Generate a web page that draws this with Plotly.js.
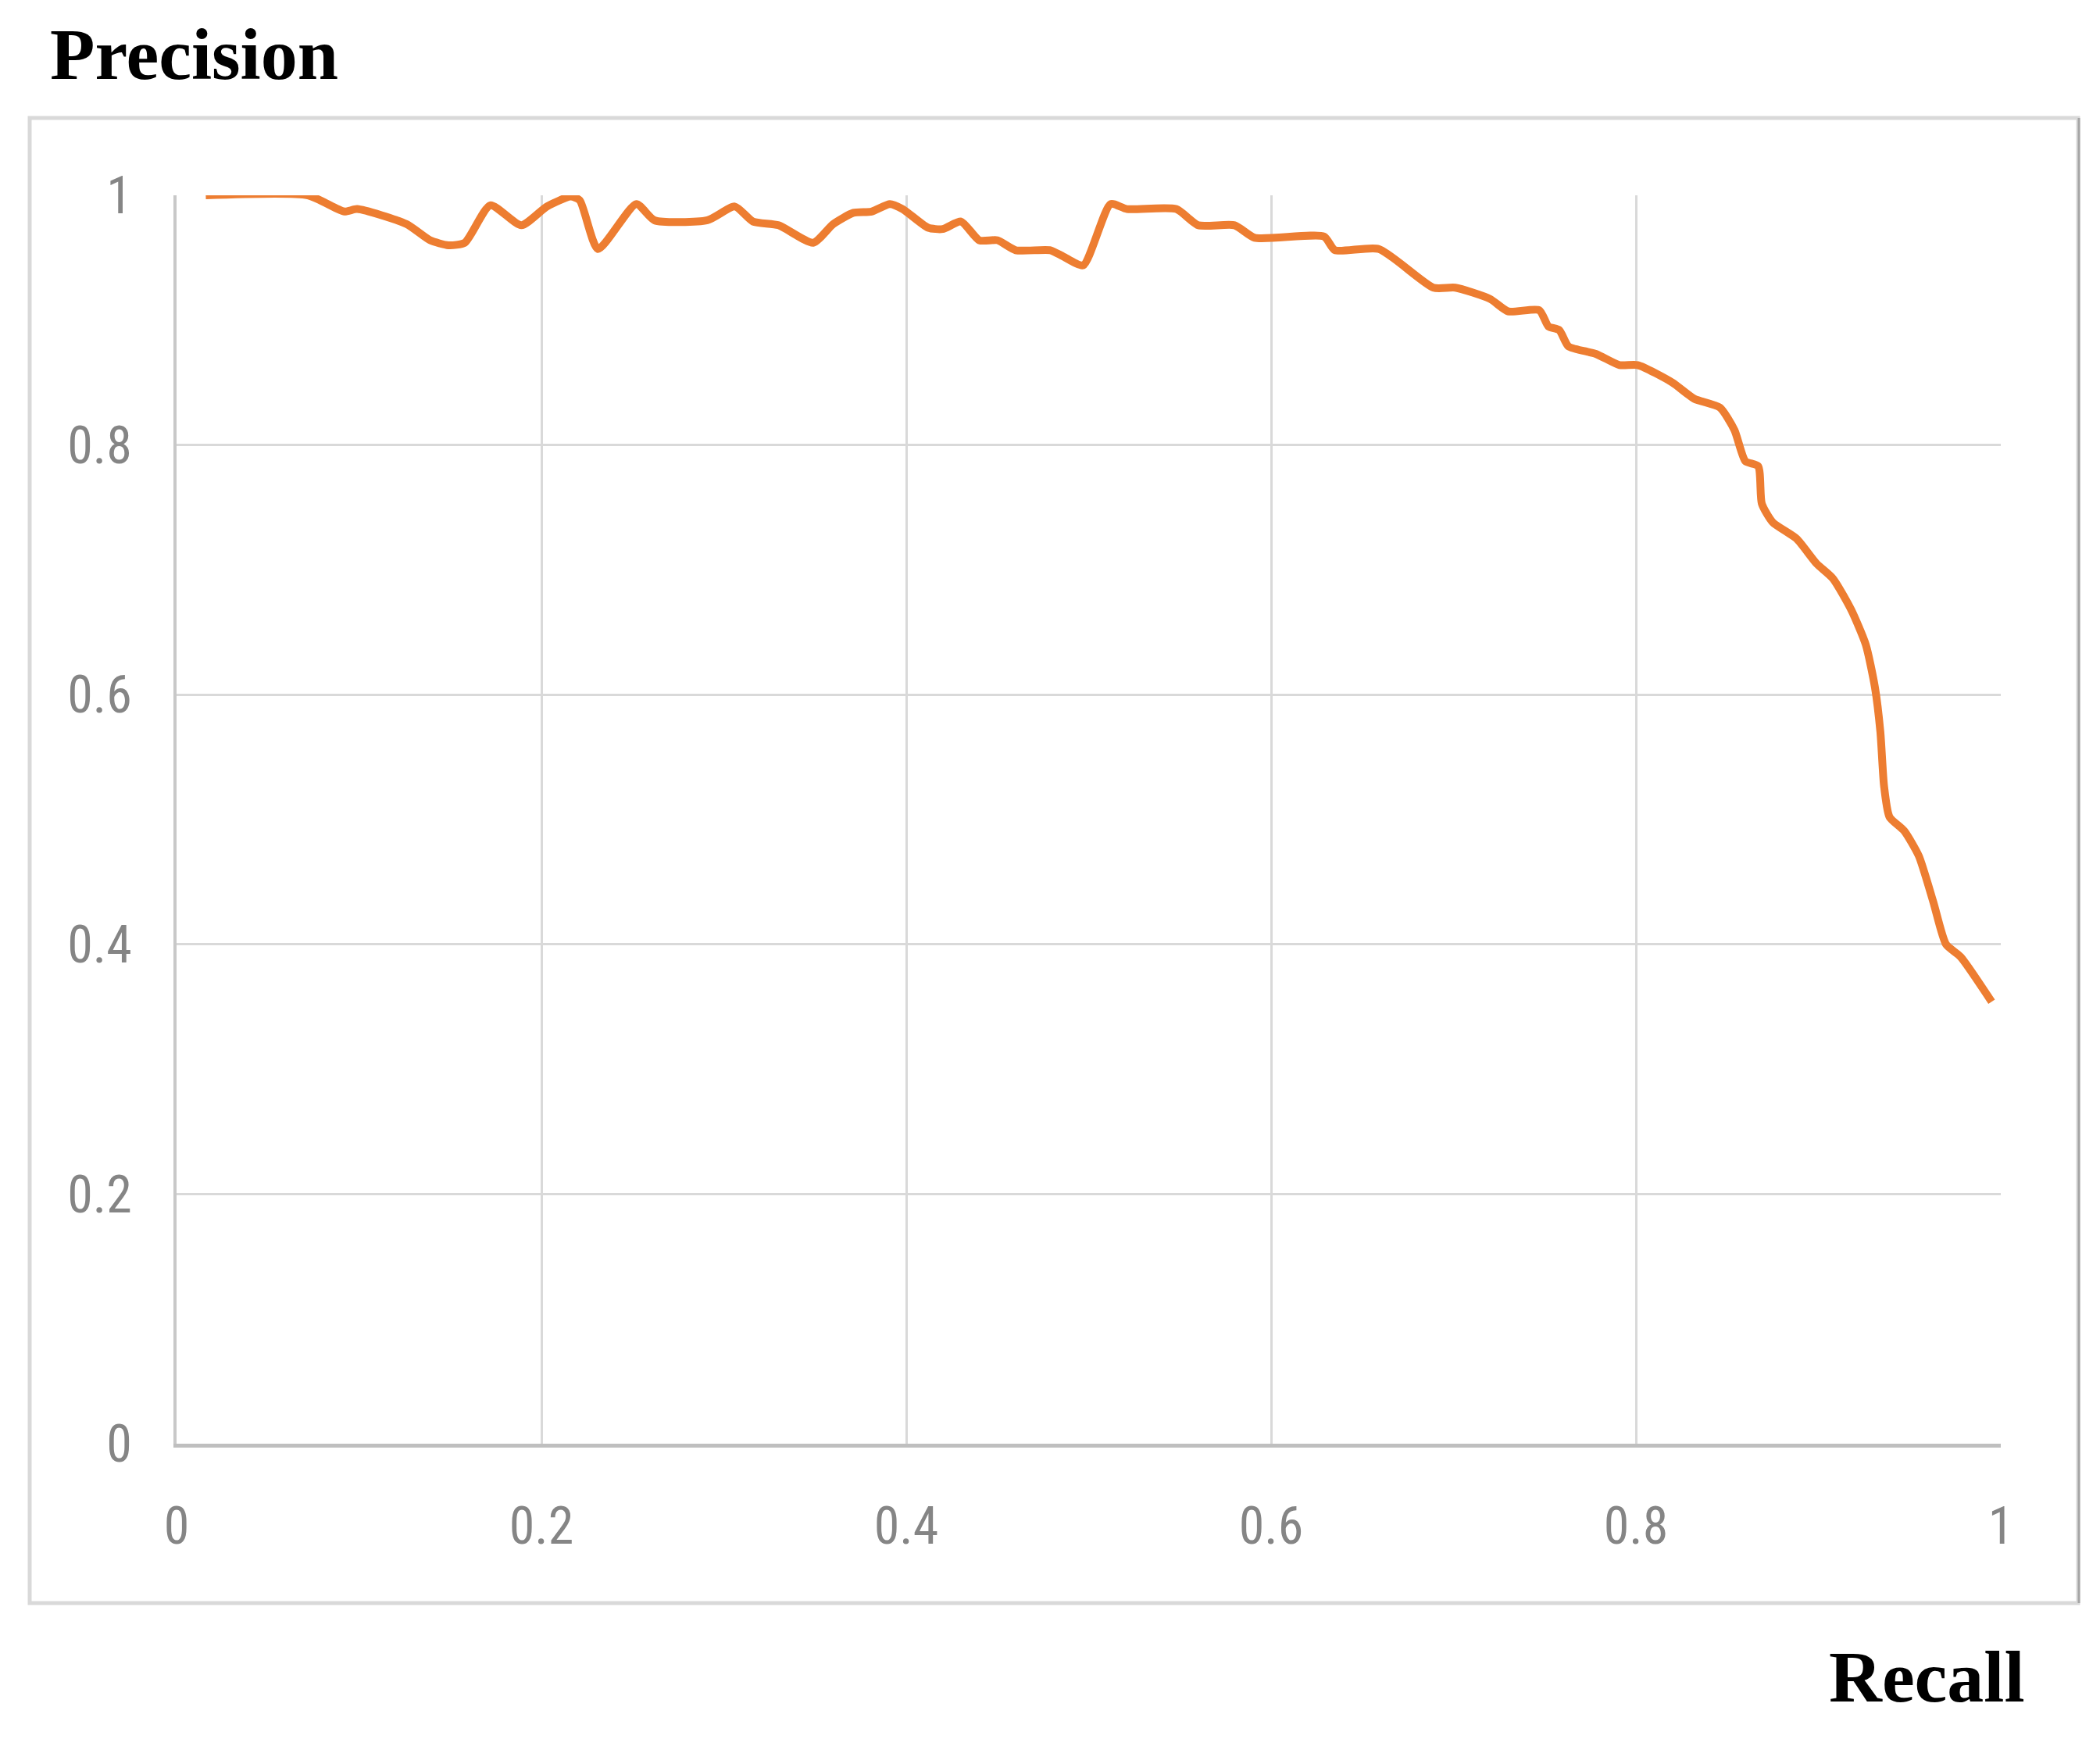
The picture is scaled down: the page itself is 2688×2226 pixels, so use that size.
<!DOCTYPE html>
<html>
<head>
<meta charset="utf-8">
<script src="https://cdn.plot.ly/plotly-3.0.1.min.js"></script>
<style>html,body{margin:0;padding:0;background:#fff;}#chart{width:2688px;height:2226px;}</style>
</head>
<body>
<div id="chart"></div>
<script>
// Recall values (x axis)
const recall = [0.016,0.072,0.092,0.099,0.126,0.139,0.149,0.158,0.172,0.189,0.203,0.216,0.221,0.231,0.252,0.262,0.291,0.306,0.316,0.330,0.349,0.360,0.371,0.381,0.391,0.398,0.412,0.420,0.430,0.440,0.450,0.460,0.479,0.486,0.497,0.512,0.521,0.548,0.560,0.580,0.591,0.629,0.635,0.659,0.689,0.701,0.720,0.730,0.747,0.752,0.758,0.763,0.778,0.791,0.801,0.820,0.832,0.846,0.854,0.860,0.867,0.869,0.875,0.888,0.899,0.908,0.918,0.926,0.931,0.934,0.936,0.939,0.947,0.955,0.963,0.970,0.978,0.995];
// Precision values (y axis)
const precision = [1.000,1.000,0.987,0.989,0.977,0.964,0.960,0.962,0.992,0.976,0.991,0.999,0.996,0.957,0.993,0.980,0.980,0.991,0.979,0.976,0.962,0.977,0.986,0.987,0.993,0.989,0.974,0.973,0.979,0.964,0.964,0.956,0.956,0.951,0.944,0.993,0.989,0.989,0.976,0.976,0.966,0.967,0.956,0.957,0.926,0.926,0.917,0.907,0.908,0.895,0.892,0.879,0.873,0.864,0.864,0.850,0.837,0.830,0.812,0.787,0.783,0.753,0.738,0.725,0.705,0.693,0.668,0.640,0.606,0.570,0.527,0.502,0.491,0.471,0.434,0.400,0.390,0.354];
// Tick values and labels
const tickVals = [0, 0.2, 0.4, 0.6, 0.8, 1];
const tickText = ['0', '0.2', '0.4', '0.6', '0.8', '1'];
const yTitle = 'Precision';
const xTitle = 'Recall';

const tickFont = {family: '"Liberation Sans Narrow", "Roboto Condensed", "Liberation Sans", sans-serif', size: 66, color: '#858585'};
const titleFont = {family: '"Liberation Serif", "Times New Roman", serif', size: 94, color: '#000', weight: 'bold'};

const trace = {
  x: recall, y: precision, type: 'scatter', mode: 'lines',
  line: {color: '#ED7D31', width: 10, shape: 'spline', smoothing: 0.6},
  hoverinfo: 'skip'
};

const L = 226, R = 2561, T = 250, B = 1848;
const W = R - L, H = B - T;
function px(xpix) { return (xpix - L) / W; }
function py(ypix) { return (B - ypix) / H; }

const layout = {
  width: 2688, height: 2226,
  margin: {l: L, r: 2688 - R, t: T, b: 2226 - B, pad: 0},
  paper_bgcolor: '#fff', plot_bgcolor: '#fff',
  showlegend: false,
  title: {text: '<b>' + yTitle + '</b>', font: titleFont, x: 64/2688, xanchor: 'left', xref: 'container', y: 1 - 68/2226, yanchor: 'middle', yref: 'container'},
  xaxis: {
    range: [0, 1], tickvals: tickVals, ticktext: tickText, tickfont: tickFont,
    showgrid: true, gridcolor: '#d9d9d9', gridwidth: 3,
    showline: true, linecolor: '#bfbfbf', linewidth: 5,
    zeroline: false, ticks: '', ticklabelstandoff: 44, fixedrange: true
  },
  yaxis: {
    range: [0, 1], tickvals: tickVals, ticktext: tickText, tickfont: tickFont,
    showgrid: true, gridcolor: '#d9d9d9', gridwidth: 3,
    showline: true, linecolor: '#c8c8c8', linewidth: 4,
    zeroline: false, ticks: '', ticklabelstandoff: 40, fixedrange: true
  },
  shapes: [
    {type: 'rect', xref: 'paper', yref: 'paper', x0: px(38), x1: px(2660), y0: py(2052), y1: py(151),
     line: {color: '#d9d9d9', width: 5}, fillcolor: 'rgba(0,0,0,0)', layer: 'below'},
    {type: 'line', xref: 'paper', yref: 'paper', x0: px(2661), x1: px(2661), y0: py(2052), y1: py(151),
     line: {color: '#a6a6a6', width: 3}}
  ],
  annotations: [
    {text: '<b>' + xTitle + '</b>', xref: 'paper', yref: 'paper', x: px(2594), xanchor: 'right', y: py(2146), yanchor: 'middle',
     showarrow: false, font: titleFont}
  ]
};

Plotly.newPlot('chart', [trace], layout, {displayModeBar: false, staticPlot: true});
</script>
</body>
</html>
